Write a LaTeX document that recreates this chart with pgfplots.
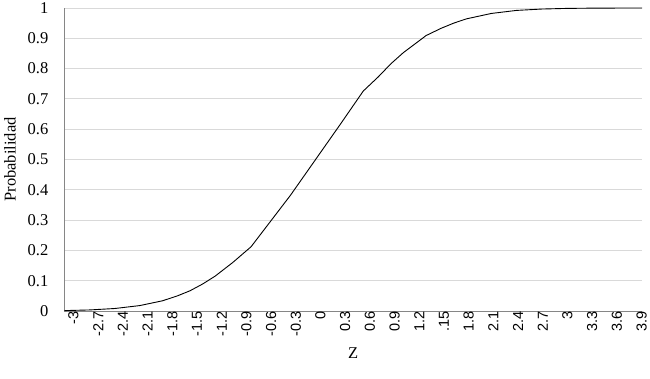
\documentclass[border=0pt]{standalone}
\usepackage{fontspec}
\setmainfont{Liberation Serif}
\newfontfamily\xfont{Liberation Sans}
\usepackage{pgfplots}
\pgfplotsset{compat=1.18}
\definecolor{axgray}{RGB}{134,134,134}
\definecolor{gridgray}{RGB}{217,217,217}
\begin{document}
\begin{tikzpicture}
\begin{axis}[
  scale only axis,
  width=577.5pt, height=303pt,
  xmin=0, xmax=23, ymin=0, ymax=1,
  axis x line*=bottom, axis y line*=left,
  axis line style={axgray, line width=0.9pt, -},
  clip=false,
  xtick={0.04,1.024,2.007,2.991,3.975,4.959,5.942,6.926,7.910,8.893,9.877,10.861,11.844,12.828,13.812,14.796,15.779,16.763,17.747,18.730,19.714,20.698,21.681,22.665},
  xticklabels={-3,-2.7,-2.4,-2.1,-1.8,-1.5,-1.2,-0.9,-0.6,-0.3,0,0.3,0.6,0.9,1.2,.15,1.8,2.1,2.4,2.7,3,3.3,3.6,3.9},
  xticklabel style={font=\xfont\fontsize{14.5}{16}\selectfont, rotate=90, anchor=east, inner sep=0pt, yshift=-8pt},
  ytick={0,0.1,0.2,0.3,0.4,0.5,0.6,0.7,0.8,0.9,1},
  yticklabels={0,0.1,0.2,0.3,0.4,0.5,0.6,0.7,0.8,0.9,1},
  yticklabel style={font=\fontsize{16.5}{18}\selectfont, anchor=east, inner sep=0pt, xshift=-16pt},
  major tick length=0pt,
  ymajorgrids,
  grid style={gridgray, line width=0.9pt},
  xlabel={Z},
  xlabel style={at={(axis description cs:0.5,0)}, anchor=north, inner sep=0pt, yshift=-36pt, font=\fontsize{16.5}{18}\selectfont},
  ylabel={Probabilidad},
  ylabel style={at={(axis description cs:0,0.5)}, anchor=south, inner sep=0pt, yshift=48.5pt, font=\fontsize{16.5}{18}\selectfont},
]
\addplot[black, line width=0.9pt, line join=round] table {
x y
0 0.0013
1 0.0035
2 0.0082
3 0.0179
3.9 0.0336
4.5 0.050
5 0.0668
5.5 0.089
6 0.1151
6.7 0.160
7.43 0.212
9 0.382
10 0.5
11 0.618
11.9 0.726
12.5 0.773
13 0.816
13.5 0.853
14 0.884
14.4 0.909
15 0.933
15.5 0.950
16 0.964
17 0.982
18 0.992
19 0.9965
20 0.99865
21 0.9995
22 0.99984
23 0.99995
};
\coordinate (ll) at (rel axis cs:0,0);
\coordinate (ur) at (rel axis cs:1,1);
\end{axis}
\pgfresetboundingbox
\path ([shift={(-64.5pt,-68pt)}]ll) rectangle ([shift={(8pt,8pt)}]ur);
\end{tikzpicture}
\end{document}
